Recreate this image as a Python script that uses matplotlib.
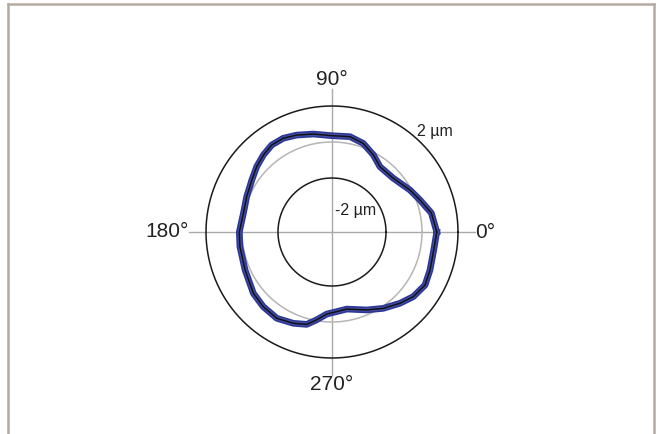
import numpy as np
import matplotlib
matplotlib.use("Agg")
import matplotlib.pyplot as plt
from matplotlib.lines import Line2D

plt.rcParams['font.family'] = ['Liberation Sans', 'DejaVu Sans']

# Roundness profile: angle (deg) and deviation (µm)
angle_deg = [0, 10.8, 20, 28.3, 41.2, 53.7, 61.8, 70.6, 79.3, 90, 100.8, 110,
             117.5, 124.7, 131.7, 139, 147, 157.5, 168, 180, 189, 203.6, 217.9,
             227.4, 237.4, 247, 254.7, 260, 266.3, 273.4, 280.8, 294, 303.9,
             313.6, 321.5, 330.3, 338.8, 349.9]
deviation_um = [0.82, 0.62, 0.20, -0.08, -0.47, -0.50, -0.14, 0.22, 0.39, 0.35,
                0.54, 0.73, 0.87, 0.88, 0.73, 0.54, 0.31, 0.13, 0.03, 0.15,
                0.18, 0.27, 0.54, 0.64, 0.69, 0.51, 0.32, -0.04, -0.43, -0.57,
                -0.64, -0.26, 0.11, 0.47, 0.77, 0.95, 0.84, 0.74]

ring_values = [-2, 0, 2]
ring_labels = ['-2 µm', '', '2 µm']
axis_angles = [0, 90, 180, 270]
axis_labels = ['0°', '90°', '180°', '270°']

W, H = 657, 434
fig = plt.figure(figsize=(W / 100, H / 100), dpi=100)

# Frame border
bc = '#b3aba1'
fig.add_artist(Line2D([8 / W, 8 / W], [0, 1 - 4 / H], color=bc, lw=1.8, transform=fig.transFigure))
fig.add_artist(Line2D([8 / W, 654 / W], [1 - 4 / H, 1 - 4 / H], color=bc, lw=1.8, transform=fig.transFigure))
fig.add_artist(Line2D([654 / W, 654 / W], [0, 1 - 4 / H], color=bc, lw=1.8, transform=fig.transFigure))

rmin, rmax = -5.0, 3.2
px_per_unit = 18.0
rad_px = (rmax - rmin) * px_per_unit
cx, cy = 332, H - 232
ax = fig.add_axes([(cx - rad_px) / W, (cy - rad_px) / H, 2 * rad_px / W, 2 * rad_px / H],
                  projection='polar')
ax.set_rlim(rmin, rmax)
ax.grid(False)
ax.set_xticks([])
ax.set_yticks([])
ax.spines['polar'].set_visible(False)
ax.patch.set_alpha(0)

th_full = np.linspace(0, 2 * np.pi, 721)
# Crosshair
for a in axis_angles:
    ax.plot([np.deg2rad(a), np.deg2rad(a)], [rmin, 2.95], color='#a9a9a9', lw=1.0, zorder=1)
# Rings
ring_colors = ['#1a1a1a', '#b5b5b5', '#1a1a1a']
for rv, rc in zip(ring_values, ring_colors):
    ax.plot(th_full, np.full_like(th_full, rv), color=rc, lw=1.1, zorder=2)

# Profile
th = np.deg2rad(np.array(angle_deg + [angle_deg[0] + 360]))
rr = np.array(deviation_um + [deviation_um[0]])
ax.plot(th, rr, color='#2d3896', lw=4.8, solid_joinstyle='round', zorder=3)
ax.plot(th, rr, color='#5a64b8', lw=2.6, alpha=0.5, solid_joinstyle='round', zorder=3)
ax.plot(th, rr, color='#111111', lw=1.1, zorder=4)

# Axis labels
ax.text(0, 2.95, axis_labels[0], ha='left', va='center', fontsize=15, color='#222222')
ax.text(np.pi, 2.95, axis_labels[2], ha='right', va='center', fontsize=15, color='#222222')
ax.text(np.pi / 2, 2.95, axis_labels[1], ha='center', va='bottom', fontsize=15, color='#222222')
ax.text(3 * np.pi / 2, 2.95, axis_labels[3], ha='center', va='top', fontsize=15, color='#222222')

# Ring labels (placed in figure pixels)
fig.text(417 / W, 1 - 131 / H, ring_labels[2], ha='left', va='center', fontsize=11.5, color='#222222', zorder=6)
fig.text(335 / W, 1 - 211 / H, ring_labels[0], ha='left', va='center', fontsize=11.5, color='#222222', zorder=6)

fig.savefig('out.png', dpi=100)
